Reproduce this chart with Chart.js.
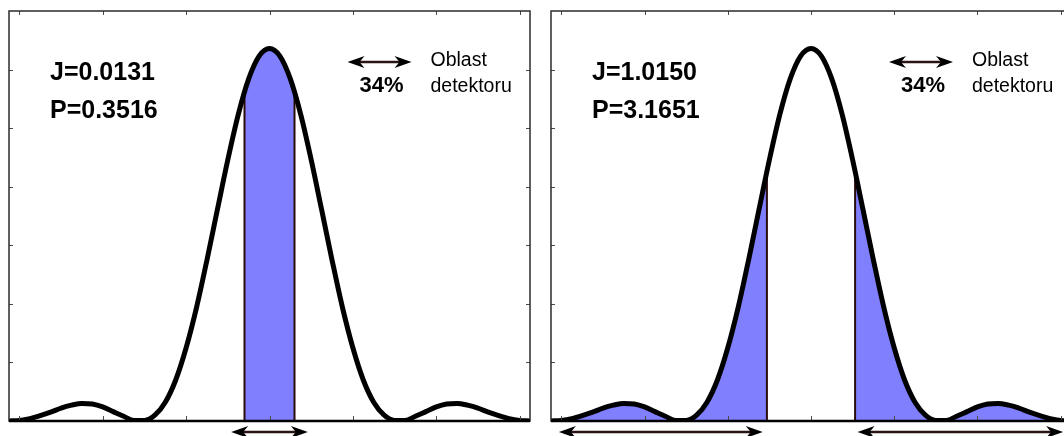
<!DOCTYPE html>
<html>
<head>
<meta charset="utf-8">
<script src="https://cdn.jsdelivr.net/npm/chart.js@4.4.1/dist/chart.umd.min.js"></script>
<style>
  html, body { margin: 0; padding: 0; background: #fff; overflow: hidden; }
  #wrap { position: relative; width: 1064px; height: 436px; overflow: hidden; }
  .panel { position: absolute; top: 0; width: 540px; height: 436px; }
</style>
</head>
<body>
<div id="wrap">
  <div class="panel" style="left:0"><canvas id="panelA" width="540" height="436"></canvas></div>
  <div class="panel" style="left:540px"><canvas id="panelB" width="540" height="436"></canvas></div>
</div>
<script>
// beam profile (same curve in both panels), x in tick units
const xPos = [-3.125, -3, -2.875, -2.75, -2.625, -2.5, -2.375, -2.25, -2.125, -2, -1.875, -1.75, -1.625,
  -1.5, -1.375, -1.25, -1.125, -1, -0.875, -0.75, -0.625, -0.5, -0.375, -0.25, -0.125, 0,
  0.125, 0.25, 0.375, 0.5, 0.625, 0.75, 0.875, 1, 1.125, 1.25, 1.375, 1.5, 1.625, 1.75,
  1.875, 2, 2.125, 2.25, 2.375, 2.5, 2.625, 2.75, 2.875, 3, 3.125];
const intensity = [0.00, 0.01, 0.04, 0.09, 0.15, 0.22, 0.27, 0.30, 0.29, 0.24, 0.16, 0.08, 0.01,
  0.01, 0.10, 0.32, 0.70, 1.25, 1.94, 2.75, 3.61, 4.46, 5.23, 5.84, 6.23, 6.36,
  6.23, 5.84, 5.23, 4.46, 3.61, 2.75, 1.94, 1.25, 0.70, 0.32, 0.10, 0.01, 0.01, 0.08,
  0.16, 0.24, 0.29, 0.30, 0.27, 0.22, 0.15, 0.09, 0.04, 0.01, 0.00];

const xTicks = [-3, -2, -1, 0, 1, 2, 3];
const yTicks = [1, 2, 3, 4, 5, 6];

// detector edges: panel A shades inside, panel B shades outside
const edgesA = [-0.3, 0.3];
const edgeValsA = [5.6, 5.6];
const edgesB = [-0.53, 0.53];
const edgeValsB = [4.25, 4.25];

// arrows under the axis (x from / to)
const arrowsA = [[-0.46, 0.46]];
const arrowsB = [[-3.03, -0.58], [0.56, 3.03]];

const labelJ = ['J=0.0131', 'J=1.0150'];
const labelP = ['P=0.3516', 'P=3.1651'];
const legendPct = '34%';
const legendText = ['Oblast', 'detektoru'];

const FONT = "'Liberation Sans', Arial, Helvetica, sans-serif";
const FILL = '#8080ff';
const EDGE = '#2a0a0a';

const pts = (xs, ys) => xs.map((x, i) => ({ x, y: ys[i] }));
const curve = pts(xPos, intensity);

function arrowHead(ctx, x0, yy, dir) {
  ctx.beginPath();
  ctx.moveTo(x0, yy);
  ctx.lineTo(x0 + dir * 17, yy - 6);
  ctx.lineTo(x0 + dir * 12, yy);
  ctx.lineTo(x0 + dir * 17, yy + 6);
  ctx.closePath();
  ctx.fill();
}

function dblArrow(ctx, x1, x2, yy) {
  ctx.strokeStyle = '#2a1414';
  ctx.fillStyle = '#000';
  ctx.lineWidth = 2.5;
  ctx.beginPath();
  ctx.moveTo(x1 + 10, yy);
  ctx.lineTo(x2 - 10, yy);
  ctx.stroke();
  arrowHead(ctx, x1, yy, 1);
  arrowHead(ctx, x2, yy, -1);
}

const boxPlugin = {
  id: 'box',
  afterDatasetsDraw(chart, args, opts) {
    const { ctx, chartArea: a, scales: { x, y } } = chart;
    ctx.save();

    // inward ticks on all four sides
    ctx.strokeStyle = '#4a4a4a';
    ctx.lineWidth = 1;
    ctx.beginPath();
    xTicks.forEach(v => {
      const px = Math.round(x.getPixelForValue(v)) + 0.5;
      ctx.moveTo(px, a.top); ctx.lineTo(px, a.top + 4);
      ctx.moveTo(px, a.bottom); ctx.lineTo(px, a.bottom - 5);
    });
    yTicks.forEach(v => {
      const py = Math.round(y.getPixelForValue(v)) + 0.5;
      ctx.moveTo(a.left, py); ctx.lineTo(a.left + 4, py);
      ctx.moveTo(a.right, py); ctx.lineTo(a.right - 4, py);
    });
    ctx.stroke();

    // frame + axis
    ctx.strokeStyle = '#2b2b2b';
    ctx.lineWidth = 1.5;
    ctx.strokeRect(a.left, a.top, a.right - a.left, a.bottom - a.top);
    ctx.strokeStyle = '#000';
    ctx.lineWidth = 2.5;
    ctx.beginPath();
    ctx.moveTo(a.left, a.bottom);
    ctx.lineTo(a.right, a.bottom);
    ctx.stroke();

    // arrows below axis
    opts.arrows.forEach(([from, to]) => {
      dblArrow(ctx, x.getPixelForValue(from), x.getPixelForValue(to), a.bottom + 11);
    });

    // J / P text
    ctx.fillStyle = '#000';
    ctx.textAlign = 'left';
    ctx.textBaseline = 'alphabetic';
    ctx.font = `bold 25px ${FONT}`;
    ctx.fillText(labelJ[opts.idx], a.left + 41, 80);
    ctx.fillText(labelP[opts.idx], a.left + 41, 118);

    // legend: arrow, 34%, Oblast detektoru
    const cx = x.getPixelForValue(0);
    dblArrow(ctx, cx + 78, cx + 142, 62);
    ctx.fillStyle = '#000';
    ctx.font = `bold 22px ${FONT}`;
    ctx.textAlign = 'center';
    ctx.fillText(legendPct, cx + 112, 91.5);
    ctx.font = `19.5px ${FONT}`;
    ctx.textAlign = 'left';
    ctx.fillText(legendText[0], cx + 161, 66);
    ctx.fillText(legendText[1], cx + 161, 91.5);

    ctx.restore();
  }
};

function bandSet(data) {
  return {
    data,
    borderColor: 'rgba(0,0,0,0)',
    borderWidth: 0,
    backgroundColor: FILL,
    fill: 'origin',
    pointRadius: 0,
    cubicInterpolationMode: 'monotone'
  };
}

function edgeSet(xv, yv) {
  return {
    data: [{ x: xv, y: 0 }, { x: xv, y: yv }],
    borderColor: EDGE,
    borderWidth: 2,
    pointRadius: 0,
    tension: 0,
    fill: false
  };
}

function makePanel(canvasId, idx, bands, edges, edgeVals, arrows, padding) {
  const datasets = [{
    data: curve,
    borderColor: '#000',
    borderWidth: 5,
    pointRadius: 0,
    fill: false,
    cubicInterpolationMode: 'monotone',
    borderJoinStyle: 'round',
    borderCapStyle: 'round'
  }];
  edges.forEach((e, i) => datasets.push(edgeSet(e, edgeVals[i])));
  bands.forEach(b => datasets.push(bandSet(b)));

  new Chart(document.getElementById(canvasId), {
    type: 'line',
    data: { datasets },
    options: {
      responsive: false,
      animation: false,
      events: [],
      layout: { padding },
      plugins: {
        legend: { display: false },
        tooltip: { enabled: false },
        box: { idx, arrows }
      },
      scales: {
        x: { type: 'linear', min: -3.125, max: 3.125, display: false },
        y: { min: 0, max: 7, display: false }
      }
    },
    plugins: [boxPlugin]
  });
}

// panel A: shade between the detector edges
const bandA = [{ x: edgesA[0], y: edgeValsA[0] }]
  .concat(curve.filter(p => p.x > edgesA[0] && p.x < edgesA[1]))
  .concat([{ x: edgesA[1], y: edgeValsA[1] }]);

// panel B: shade outside the detector edges
const bandBL = curve.filter(p => p.x < edgesB[0]).concat([{ x: edgesB[0], y: edgeValsB[0] }]);
const bandBR = [{ x: edgesB[1], y: edgeValsB[1] }].concat(curve.filter(p => p.x > edgesB[1]));

makePanel('panelA', 0, [bandA], edgesA, edgeValsA, arrowsA, { left: 9, right: 10, top: 11, bottom: 15 });
makePanel('panelB', 1, [bandBL, bandBR], edgesB, edgeValsB, arrowsB, { left: 11, right: 9, top: 11, bottom: 15 });
</script>
</body>
</html>
